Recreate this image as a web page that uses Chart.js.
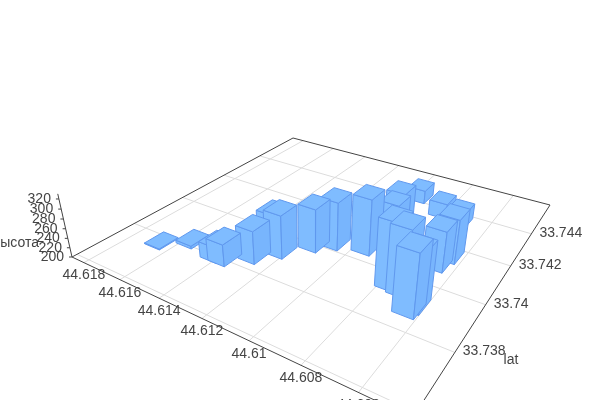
<!DOCTYPE html>
<html>
<head>
<meta charset="utf-8">
<style>body{margin:0;background:#fff}canvas{display:block}</style>
<script src="https://cdn.jsdelivr.net/npm/chart.js"></script>
</head>
<body>
<canvas id="chart" width="600" height="400"></canvas>
<script>
// values
const lons = [44.6167,44.61571,44.6142,44.6138,44.61295,44.6127,44.61229,44.61145,44.61082,44.60958,44.60885,44.60918,44.60959,44.6082,44.60723,44.60656,44.60673,44.60766,44.60715,44.60642,44.60647];
const lats = [33.73774,33.73826,33.7381,33.7381,33.73862,33.73929,33.73923,33.73999,33.74041,33.74067,33.74126,33.74212,33.74432,33.74376,33.74353,33.74158,33.74102,33.73955,33.73947,33.73908,33.73887];
const heights = [202,206,233,246,269,283,291,292,302,318,298,291,230,234,235,293,285,336,335,317,326];
const lonTicks = [44.618,44.616,44.614,44.612,44.61,44.608,44.606];
const latTicks = [33.736,33.738,33.74,33.742,33.744];
const latLabels = [33.738,33.74,33.742,33.744];
const heightTicks = [200,220,240,260,280,300,320];

const lonMin = 44.6043, lonMax = 44.6187, latMin = 33.73584, latMax = 33.74614;
const zMin = 200, zTop = 330;
const halfLon = 0.00041, halfLat = 0.00036;

// camera: floor corners on screen, then the vanishing point of the verticals
const [x0,y0,x1,y1,x2,y2,x3,y3] = [412.5,418,72,257,293,138,550,205];
const vpX = 311, vpY = 1317;
const dx1 = x1-x2, dx2 = x3-x2, sx = x0-x1+x2-x3, dy1 = y1-y2, dy2 = y3-y2, sy = y0-y1+y2-y3;
const den = dx1*dy2-dx2*dy1, g = (sx*dy2-dx2*sy)/den, h = (dx1*sy-sx*dy1)/den;
const a = x1-x0+g*x1, b = x3-x0+h*x3, d = y1-y0+g*y1, e = y3-y0+h*y3;
const cz = -0.0519*(g+1)/120;

function project(lon, lat, z) {
  const s = (lon-lonMin)/(lonMax-lonMin), t = (lat-latMin)/(latMax-latMin), k = cz*(z-zMin);
  const w = g*s+h*t+1+k;
  return {x:(a*s+b*t+x0+k*vpX)/w, y:(d*s+e*t+y0+k*vpY)/w};
}
function depth(lon, lat) {
  return g*(lon-lonMin)/(lonMax-lonMin)+h*(lat-latMin)/(latMax-latMin);
}

const datasets = [];
function addLine(points, color) {
  datasets.push({data:points, showLine:true, borderColor:color, borderWidth:1, pointRadius:0, fill:false});
}
function addFace(points, fillColor) {
  datasets.push({data:points.concat([points[0]]), showLine:true, borderColor:'#6098ee', borderWidth:1, pointRadius:0, fill:'shape', backgroundColor:fillColor});
}

// floor
lonTicks.forEach(v => addLine([project(v,latMin,zMin),project(v,latMax,zMin)], '#dcdcdc'));
latTicks.forEach(v => addLine([project(lonMin,v,zMin),project(lonMax,v,zMin)], '#dcdcdc'));
const frame = [[lonMin,latMin],[lonMax,latMin],[lonMax,latMax],[lonMin,latMax],[lonMin,latMin]];
addLine(frame.map(c => project(c[0],c[1],zMin)), '#444');
addLine([project(lonMax,latMin,zMin),project(lonMax,latMin,zTop)], '#444');
heightTicks.forEach(v => {
  const p = project(lonMax,latMin,v);
  addLine([p,{x:p.x-3,y:p.y}], '#444');
});

// bars, far ones first
lons.map((v,i) => i).sort((p,q) => depth(lons[q],lats[q])-depth(lons[p],lats[p])).forEach(i => {
  const lo = lons[i]-halfLon, hi = lons[i]+halfLon, la = lats[i]-halfLat, lb = lats[i]+halfLat, z = heights[i];
  addFace([project(hi,la,zMin),project(lo,la,zMin),project(lo,la,z),project(hi,la,z)], '#7fbcff');
  addFace([project(lo,la,zMin),project(lo,lb,zMin),project(lo,lb,z),project(lo,la,z)], '#78b5fd');
  addFace([project(hi,la,z),project(lo,la,z),project(lo,lb,z),project(hi,lb,z)], '#7fbcff');
});

const axisLabels = {
  id:'axisLabels',
  afterDraw(chart) {
    const c = chart.ctx, px = chart.scales.x, py = chart.scales.y;
    const put = (txt, p, dx, dy, align) => {
      c.textAlign = align;
      c.fillText(txt, px.getPixelForValue(p.x)+dx, py.getPixelForValue(p.y)+dy);
    };
    c.save();
    c.font = '14px "Liberation Sans"';
    c.fillStyle = '#444';
    c.textBaseline = 'middle';
    lonTicks.forEach(v => put(String(v), project(v,latMin,zMin), 0, 13, 'center'));
    latLabels.forEach(v => put(String(v), project(lonMin,v,zMin), 8, -1, 'left'));
    heightTicks.forEach(v => put(String(v), project(lonMax,latMin,v), -8, 0, 'right'));
    put('высота', project(lonMax,latMin,zMin), -33, -14, 'right');
    put('lat', project(lonMin,33.7377,zMin), 54, 0, 'left');
    c.restore();
  }
};

new Chart(document.getElementById('chart'), {
  type:'scatter',
  data:{datasets:datasets.reverse()},
  options:{
    responsive:false,
    animation:false,
    layout:{padding:0},
    plugins:{legend:{display:false},tooltip:{enabled:false}},
    scales:{
      x:{type:'linear',min:0,max:600,display:false},
      y:{type:'linear',min:0,max:400,reverse:true,display:false}
    }
  },
  plugins:[axisLabels]
});
</script>
</body>
</html>
